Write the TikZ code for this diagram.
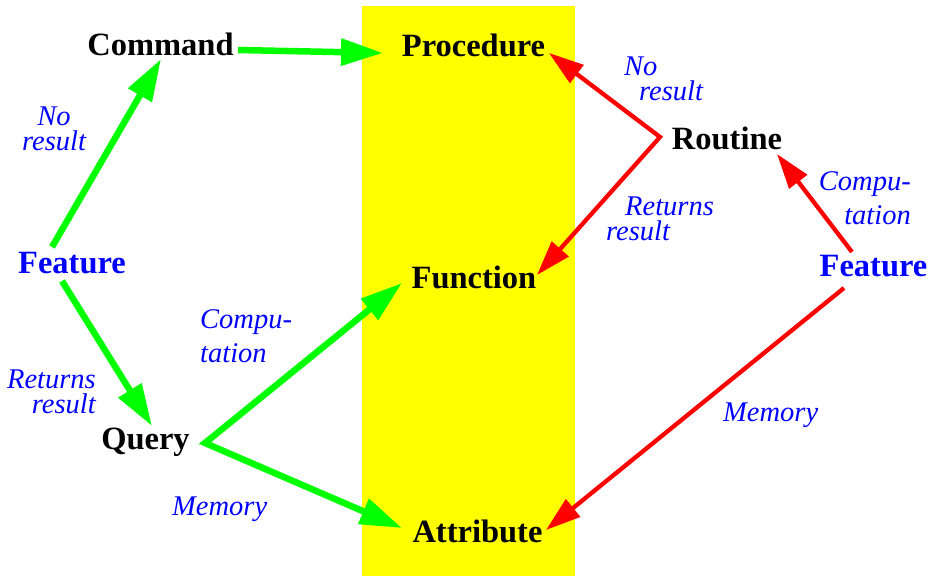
\documentclass[tikz,border=0pt]{standalone}
\usepackage{fontspec}
\setmainfont{Liberation Serif}
\usetikzlibrary{arrows.meta}
\definecolor{ggreen}{RGB}{0,255,0}
\definecolor{rred}{RGB}{255,0,0}
\definecolor{bblue}{RGB}{0,0,255}
\definecolor{yyellow}{RGB}{255,255,0}
\tikzset{
  term/.style={inner sep=0pt, anchor=base, font=\fontsize{32.5}{36}\selectfont\bfseries},
  featterm/.style={term, text=bblue},
  lbl/.style={inner sep=0pt, text=bblue, font=\fontsize{28.5}{25}\selectfont\itshape},
  lblwide/.style={inner sep=0pt, text=bblue, font=\fontsize{28.5}{34}\selectfont\itshape},
  garrow/.style={draw=ggreen, line width=6.5pt, -{Triangle[length=42pt,width=26pt]}},
  gboth/.style={draw=ggreen, line width=6.5pt, miter limit=20, {Triangle[length=42pt,width=26pt]}-{Triangle[length=42pt,width=26pt]}},
  rarrow/.style={draw=rred, line width=4.3pt, -{Triangle[length=35pt,width=22pt]}},
  rboth/.style={draw=rred, line width=4.3pt, miter limit=20, {Triangle[length=35pt,width=22pt]}-{Triangle[length=35pt,width=22pt]}},
}
\begin{document}
\begin{tikzpicture}[x=1pt,y=-1pt]
\useasboundingbox (0,0) rectangle (932,576);
\fill[white] (0,0) rectangle (932,576);
\fill[yyellow] (362,6) rectangle (575,576);
% terms
\node[term] (cmd) at (160.5,55) {Command};
\node[term] (proc) at (473.5,56) {Procedure};
\node[featterm] (feat1) at (72,273) {Feature};
\node[term] (query) at (145.5,449) {Query};
\node[term] (func) at (474,288) {Function};
\node[term] (attr) at (477.5,542) {Attribute};
\node[term] (rout) at (727,149) {Routine};
\node[featterm] (feat2) at (873.5,276) {Feature};
% labels (base anchor = baseline of last line)
\node[lbl, align=center, anchor=base] (l1) at (54,150) {No\\result};
\node[lbl, align=right, anchor=base east] (l2) at (96,413) {Returns\\result};
\node[lblwide, align=left, anchor=base west] (l3) at (200,362) {Compu-\\tation};
\node[lbl, anchor=base west] (l4) at (172,515) {Memory};
\node[lbl, align=left, anchor=base west] (r1) at (624,100) {No\\\hspace*{15pt}result};
\node[lbl, align=left, anchor=base west] (r2) at (606,240) {\hspace*{19pt}Returns\\result};
\node[lblwide, align=right, anchor=base east] (r3) at (911,224) {Compu-\\tation};
\node[lbl, anchor=base west] (r4) at (723,421) {Memory};
% green connectors
\draw[garrow] ([shift={(77.5,-5)}]cmd.base) -- ([shift={(-90.5,-3)}]proc.base);
\draw[garrow] ([shift={(-20,-26)}]feat1.base) -- ([shift={(0.5,4)}]cmd.base);
\draw[garrow] ([shift={(-10,8)}]feat1.base) -- ([shift={(6.5,-23)}]query.base);
\draw[gboth] ([shift={(-72,-5)}]func.base) -- ([shift={(59.5,-6)}]query.base) -- ([shift={(-75.5,-14)}]attr.base);
% red connectors
\draw[rboth] ([shift={(75.5,-3)}]proc.base) -- ([shift={(-67,-12)}]rout.base) -- ([shift={(63,-13)}]func.base);
\draw[rarrow] ([shift={(-21.5,-24)}]feat2.base) -- ([shift={(50,5)}]rout.base);
\draw[rarrow] ([shift={(-29.5,12)}]feat2.base) -- ([shift={(68.5,-12)}]attr.base);
\end{tikzpicture}
\end{document}
